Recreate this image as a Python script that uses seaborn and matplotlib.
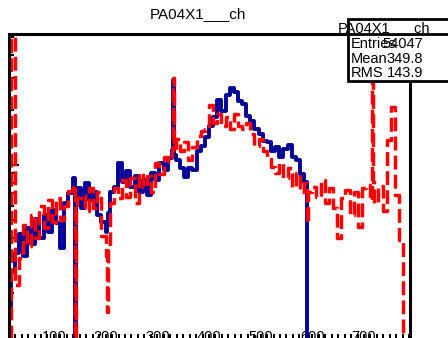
import numpy as np
import pandas as pd
import matplotlib
matplotlib.use("Agg")
import matplotlib.pyplot as plt
from matplotlib.ticker import MultipleLocator, NullFormatter, LogLocator
from matplotlib.patches import Rectangle
from matplotlib.lines import Line2D
import seaborn as sns

plt.rcParams["font.family"] = ["Liberation Sans", "DejaVu Sans"]

# ---------------- data ----------------
title = "PA04X1___ch"
stat_labels = ["Entries", "Mean", "RMS"]
stat_values = ["54047", "349.8", "143.9"]
x_ticks = [100, 200, 300, 400, 500, 600, 700]

bin_edges = sorted(set(range(0, 800, 8)) | {140, 142, 203, 205, 331, 333, 589, 716, 718})

blue_counts = [
    0, 16, 26, 33, 42, 32, 45, 37, 51, 40,
    53, 43, 57, 48, 35, 62, 70, 85, 0, 64,
    75, 58, 80, 64, 71, 53, 49, 43, 47, 55,
    71, 76, 102, 81, 93, 76, 87, 71, 83, 69,
    90, 83, 102, 94, 109, 121, 291, 113, 107, 96,
    86, 96, 94, 119, 127, 143, 163, 183, 226, 198,
    242, 263, 250, 224, 215, 185, 174, 158, 148, 135,
    134, 119, 126, 111, 123, 129, 111, 106, 89, 81,
    0, 0, 0, 0, 0, 0, 0, 0, 0, 0,
    0, 0, 0, 0, 0, 0, 0, 0, 0, 0,
    0, 0, 0, 0, 0, 0, 0, 0,
]

red_counts = [
    0, 0, 2000, 22, 31, 47, 36, 53, 40, 60,
    45, 64, 49, 66, 50, 60, 72, 78, 0, 57,
    66, 69, 56, 75, 58, 71, 41, 32, 15.7, 37,
    62, 75, 66, 83, 67, 85, 62, 90, 76, 87,
    71, 102, 89, 111, 105, 121, 300, 124, 139, 119,
    134, 107, 126, 144, 154, 158, 213, 170, 189, 163,
    183, 158, 189, 163, 157, 170, 148, 127, 139, 119,
    111, 98, 90, 102, 85, 96, 76, 90, 71, 80,
    48, 71, 76, 67, 83, 62, 75, 58, 40, 66,
    73, 53, 71, 46, 75, 78, 64, 2000, 81, 62,
    77, 56, 137, 207, 69, 39, 0, 0,
]

# step outline: one point per bin edge, last bin value repeated at the last edge
df = pd.DataFrame({
    "edge": np.array(bin_edges, dtype=float),
    "blue": blue_counts + [blue_counts[-1]],
    "red": red_counts + [red_counts[-1]],
})

# ---------------- figure ----------------
W, H = 448, 338
fig = plt.figure(figsize=(W / 100, H / 100), dpi=100)
fig.patch.set_facecolor("white")
ax = fig.add_axes([9 / W, -10 / H, 401 / W, 314 / H])
ax.set_yscale("log")

sns.lineplot(data=df, x="edge", y="blue", estimator=None, sort=False,
             drawstyle="steps-post", color="#000099", linewidth=2.8, ax=ax)
sns.lineplot(data=df, x="edge", y="red", estimator=None, sort=False,
             drawstyle="steps-post", color="#ff0000", linewidth=2.5,
             dashes=False, ax=ax)
ax.lines[-1].set_linestyle((0, (4.0, 1.5)))

ax.set_ylim(10, 520)
ax.set_xlim(13, 789)
ax.set_xlabel("")
ax.set_ylabel("")

ax.xaxis.set_minor_locator(MultipleLocator(12.5))
ax.set_xticks(x_ticks)
ax.tick_params(axis="x", which="major", direction="in", length=10, width=1.4,
               pad=-13, labelsize=10.5)
ax.tick_params(axis="x", which="minor", direction="in", length=10, width=1.4)
ax.yaxis.set_minor_locator(LogLocator(base=10, subs=np.arange(2, 10)))
ax.yaxis.set_minor_formatter(NullFormatter())
ax.tick_params(axis="y", which="major", direction="in", length=7.5, width=1.6,
               labelleft=False)
ax.tick_params(axis="y", which="minor", direction="in", length=3.6, width=1.6)

for s in ax.spines.values():
    s.set_linewidth(2.2)
    s.set_color("black")

# title
fig.text(198 / W, 1 - 18 / H, title, ha="center", va="baseline", fontsize=11)

# stats box
box = Rectangle((348 / W, 1 - 81 / H), (455 - 348) / W, (81 - 19) / H,
                transform=fig.transFigure, facecolor="white", edgecolor="black",
                linewidth=2.0, zorder=10)
fig.add_artist(box)
fig.add_artist(Line2D([348 / W, 1.0], [1 - 34 / H, 1 - 34 / H],
                      transform=fig.transFigure, color="black", linewidth=2.0,
                      zorder=11))
fig.text(384 / W, 1 - 32 / H, title, ha="center", va="baseline", fontsize=10.5,
         zorder=12)
for lab, val, yb in zip(stat_labels, stat_values, [48, 63, 77]):
    fig.text(351 / W, 1 - yb / H, lab, ha="left", va="baseline", fontsize=10.5, zorder=12)
    fig.text(423 / W, 1 - yb / H, val, ha="right", va="baseline", fontsize=10.5, zorder=12)

fig.savefig("out.png", dpi=100)
